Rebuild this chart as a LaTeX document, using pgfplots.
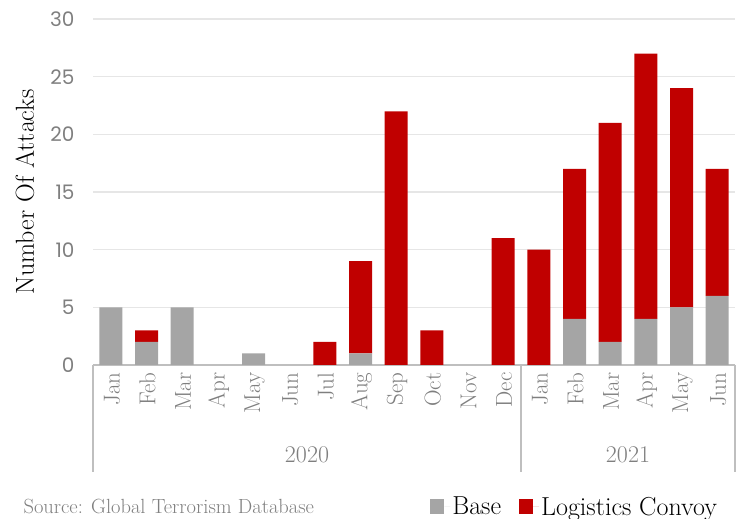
\documentclass[border=0pt]{standalone}
\usepackage{pgfplots}
\pgfplotsset{compat=1.18}
\usepackage{fontspec}
\newfontfamily\tickfont{Poppins}
\definecolor{basegray}{HTML}{A5A5A5}
\definecolor{convred}{HTML}{C00000}
\definecolor{txtgray}{HTML}{7F7F7F}
\definecolor{gridgray}{HTML}{E6E6E6}
\definecolor{axgray}{HTML}{BFBFBF}
\begin{document}
\begin{tikzpicture}
\path[use as bounding box] (0,0) rectangle (739pt,519pt);
\begin{axis}[
  at={(93pt,154pt)}, anchor=south west,
  width=642pt, height=346pt, scale only axis,
  ybar stacked, bar width=23pt,
  xmin=-0.5, xmax=17.5, ymin=0, ymax=30,
  ytick={0,5,...,30},
  xtick={0,...,17},
  xticklabels={Jan,Feb,Mar,Apr,May,Jun,Jul,Aug,Sep,Oct,Nov,Dec,Jan,Feb,Mar,Apr,May,Jun},
  ymajorgrids, major grid style={gridgray, line width=1.5pt},
  tick style={draw=none},
  axis line style={draw=none},
  clip=false,
  /pgf/number format/assume math mode=true,
  yticklabel style={font=\tickfont\fontsize{20}{24}\selectfont, text=txtgray, xshift=-15pt},
  xticklabel style={font=\fontsize{23}{27}\selectfont, text=txtgray, rotate=90, anchor=east, xshift=-4pt, yshift=-1pt},
  legend style={at={(0.98,-0.41)}, anchor=east, draw=none, fill=none,
    font=\fontsize{26}{30}\selectfont, legend columns=2,
    /tikz/every even column/.append style={column sep=16pt}},
  legend image code/.code={\fill[#1] (0pt,-7.5pt) rectangle (14pt,7.5pt); \path (14pt,0pt) -- (20pt,0pt);},
]
\addplot[fill=basegray, draw=none] coordinates {
(0,5) (1,2) (2,5) (3,0) (4,1) (5,0) (6,0) (7,1) (8,0) (9,0) (10,0) (11,0)
(12,0) (13,4) (14,2) (15,4) (16,5) (17,6)};
\addplot[fill=convred, draw=none] coordinates {
(0,0) (1,1) (2,0) (3,0) (4,0) (5,0) (6,2) (7,8) (8,22) (9,3) (10,0) (11,11)
(12,10) (13,13) (14,19) (15,23) (16,19) (17,11)};
\legend{Base, Logistics Convoy}
\draw[axgray, line width=1.2pt] (axis cs:-0.5,0) -- (axis cs:17.5,0);
\draw[axgray, line width=1.2pt] (axis cs:-0.5,0) -- ([yshift=-107pt]axis cs:-0.5,0);
\draw[axgray, line width=1.2pt] (axis cs:11.5,0) -- ([yshift=-107pt]axis cs:11.5,0);
\draw[axgray, line width=1.2pt] (axis cs:17.5,0) -- ([yshift=-107pt]axis cs:17.5,0);
\node[text=txtgray, font=\fontsize{24}{28}\selectfont] at ([yshift=-90pt]axis cs:5.5,0) {2020};
\node[text=txtgray, font=\fontsize{24}{28}\selectfont] at ([yshift=-90pt]axis cs:14.5,0) {2021};
\end{axis}
\node[rotate=90, font=\fontsize{26}{30}\selectfont] at (25pt,327pt) {Number Of Attacks};
\node[anchor=west, text=txtgray, font=\fontsize{20.5}{24}\selectfont] at (20pt,12pt) {Source: Global Terrorism Database};
\end{tikzpicture}
\end{document}
